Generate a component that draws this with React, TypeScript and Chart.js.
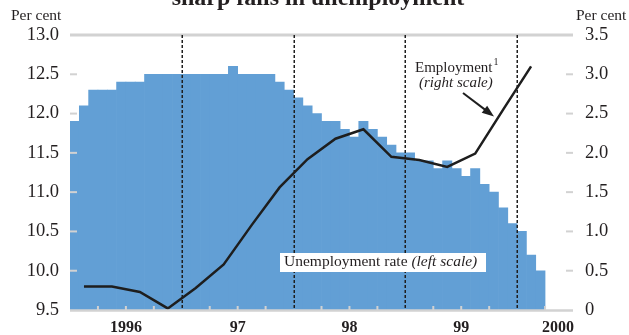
import React, { useEffect, useRef } from 'react';
import { Chart, registerables } from 'chart.js';

Chart.register(...registerables);

// ---- Data ----
const yearLabels = ['1996', '97', '98', '99', '2000'];
const startYear = 1996;
const monthCount = 54; // Jan 1996 .. Jun 2000

// Monthly unemployment rate, per cent (left scale)
const unemployment = [
  11.9, 12.1, 12.3, 12.3, 12.3, 12.4, 12.4, 12.4,
  12.5, 12.5, 12.5, 12.5, 12.5, 12.5, 12.5, 12.5, 12.5,
  12.6, 12.5, 12.5, 12.5, 12.5, 12.4, 12.3, 12.2, 12.1, 12.0,
  11.9, 11.9, 11.8, 11.7, 11.9, 11.8, 11.7, 11.6, 11.5, 11.5,
  11.4, 11.4, 11.3, 11.4, 11.3, 11.2, 11.3, 11.1, 11.0, 10.8,
  10.6, 10.5, 10.2, 10.0,
];

// Quarterly employment growth, per cent (right scale), 1996Q1 .. 2000Q1
const employment = [
  0.30, 0.30, 0.23, 0.02, 0.28, 0.58, 1.08, 1.56, 1.92,
  2.18, 2.30, 1.95, 1.91, 1.82, 1.99, 2.55, 3.10,
];

const leftTicks = [9.5, 10.0, 10.5, 11.0, 11.5, 12.0, 12.5, 13.0];
const rightTicks = [0, 0.5, 1.0, 1.5, 2.0, 2.5, 3.0, 3.5];

const titleText = 'sharp falls in unemployment';
const unitText = 'Per cent';

// ---- Derived tables ----
const monthLabels: string[] = [];
for (let i = 0; i < monthCount; i++) {
  monthLabels.push(`${startYear + Math.floor(i / 12)}-${String((i % 12) + 1).padStart(2, '0')}`);
}
const barData: (number | null)[] = monthLabels.map((_, i) => (i < unemployment.length ? unemployment[i] : null));
const lineData: (number | null)[] = monthLabels.map((_, i) =>
  i % 3 === 1 && Math.floor(i / 3) < employment.length ? employment[Math.floor(i / 3)] : null
);

const SERIF = "'Liberation Serif', 'Times New Roman', serif";
const TEXT = '#231f20';
const GRAY = '#d2d2d2';
const BLUE = '#629fd5';

const overlay = {
  id: 'overlay',
  afterDatasetsDraw(chart: any) {
    const ctx = chart.ctx as CanvasRenderingContext2D;
    const { left, right, top, bottom } = chart.chartArea;
    const x = chart.scales.x;
    const yL = chart.scales.y;
    const yR = chart.scales.y2;
    const half = (x.getPixelForValue(1) - x.getPixelForValue(0)) / 2;
    const edge = (m: number) => x.getPixelForValue(Math.min(m, monthCount - 1)) + (m < monthCount ? -half : half);

    ctx.save();
    // top and bottom gray rules
    ctx.strokeStyle = GRAY;
    ctx.lineWidth = 3;
    ctx.beginPath();
    ctx.moveTo(left, yL.getPixelForValue(leftTicks[leftTicks.length - 1]));
    ctx.lineTo(right, yL.getPixelForValue(leftTicks[leftTicks.length - 1]));
    ctx.stroke();
    ctx.lineWidth = 2.5;
    ctx.beginPath();
    ctx.moveTo(left, yL.getPixelForValue(leftTicks[0]) + 0.5);
    ctx.lineTo(right, yL.getPixelForValue(leftTicks[0]) + 0.5);
    ctx.stroke();

    // y tick marks inside the plot
    ctx.lineWidth = 2;
    leftTicks.slice(1, -1).forEach((v) => {
      const py = yL.getPixelForValue(v);
      ctx.beginPath();
      ctx.moveTo(left, py);
      ctx.lineTo(left + 7, py);
      ctx.stroke();
    });
    rightTicks.slice(1, -1).forEach((v) => {
      const py = yR.getPixelForValue(v);
      ctx.beginPath();
      ctx.moveTo(right - 7, py);
      ctx.lineTo(right, py);
      ctx.stroke();
    });
    // x quarter ticks
    for (let m = 3; m < monthCount; m += 3) {
      if (m % 12 === 0) continue;
      const px = edge(m);
      ctx.beginPath();
      ctx.moveTo(px, bottom - 4);
      ctx.lineTo(px, bottom);
      ctx.stroke();
    }

    // dotted year separators
    ctx.strokeStyle = '#1e1e1e';
    ctx.lineWidth = 1.5;
    ctx.setLineDash([3, 2]);
    for (let m = 12; m < monthCount; m += 12) {
      const px = Math.round(edge(m)) + 0.25;
      ctx.beginPath();
      ctx.moveTo(px, top);
      ctx.lineTo(px, bottom);
      ctx.stroke();
    }
    ctx.setLineDash([]);

    // Unemployment label with white box
    ctx.fillStyle = '#ffffff';
    ctx.fillRect(280, 253, 206, 19);
    ctx.fillStyle = TEXT;
    ctx.textBaseline = 'alphabetic';
    ctx.textAlign = 'left';
    ctx.font = `15.5px ${SERIF}`;
    const part1 = 'Unemployment rate ';
    ctx.fillText(part1, 284, 266);
    const w1 = ctx.measureText(part1).width;
    ctx.font = `italic 15.5px ${SERIF}`;
    ctx.fillText('(left scale)', 284 + w1, 266);

    // Employment label
    ctx.font = `15px ${SERIF}`;
    ctx.fillText('Employment', 415, 72);
    const w2 = ctx.measureText('Employment').width;
    ctx.font = `10px ${SERIF}`;
    ctx.fillText('1', 415 + w2 + 1, 65);
    ctx.font = `italic 15px ${SERIF}`;
    ctx.fillText('(right scale)', 419, 87);

    // arrow
    const x0 = 463, y0 = 93, x1 = 494, y1 = 116.5;
    const ang = Math.atan2(y1 - y0, x1 - x0);
    ctx.strokeStyle = '#1e1e1e';
    ctx.fillStyle = '#1e1e1e';
    ctx.lineWidth = 2;
    ctx.beginPath();
    ctx.moveTo(x0, y0);
    ctx.lineTo(x1 - 8 * Math.cos(ang), y1 - 8 * Math.sin(ang));
    ctx.stroke();
    ctx.beginPath();
    ctx.moveTo(x1, y1);
    ctx.lineTo(x1 - 12 * Math.cos(ang) + 4.5 * Math.sin(ang), y1 - 12 * Math.sin(ang) - 4.5 * Math.cos(ang));
    ctx.lineTo(x1 - 12 * Math.cos(ang) - 4.5 * Math.sin(ang), y1 - 12 * Math.sin(ang) + 4.5 * Math.cos(ang));
    ctx.closePath();
    ctx.fill();

    // x-axis year labels
    ctx.fillStyle = TEXT;
    ctx.font = `bold 16px ${SERIF}`;
    ctx.textAlign = 'center';
    yearLabels.forEach((lab, k) => {
      const a = edge(k * 12);
      const b = edge(Math.min((k + 1) * 12, monthCount));
      if ((k + 1) * 12 <= monthCount) {
        ctx.textAlign = 'center';
        ctx.fillText(lab, (a + b) / 2, 332);
      } else {
        ctx.textAlign = 'right';
        ctx.fillText(lab, b + 1, 332);
      }
    });

    // unit labels
    ctx.font = `15.5px ${SERIF}`;
    ctx.textAlign = 'left';
    ctx.fillText(unitText, 11, 20);
    ctx.fillText(unitText, 576, 20);

    // title (cut at top)
    ctx.font = `bold 24px ${SERIF}`;
    ctx.textAlign = 'center';
    ctx.fillText(titleText, 318, 5);
    ctx.restore();
  },
};

export default function App() {
  const ref = useRef<HTMLCanvasElement | null>(null);
  useEffect(() => {
    if (!ref.current) return;
    const chart = new Chart(ref.current, {
      type: 'bar',
      data: {
        labels: monthLabels,
        datasets: [
          {
            type: 'line',
            label: 'Employment',
            data: lineData,
            yAxisID: 'y2',
            borderColor: '#1e1e1e',
            borderWidth: 2.5,
            pointRadius: 0,
            spanGaps: true,
            tension: 0,
            order: 0,
          } as any,
          {
            type: 'bar',
            label: 'Unemployment rate',
            data: barData,
            yAxisID: 'y',
            backgroundColor: BLUE,
            borderWidth: 0,
            barPercentage: 1,
            categoryPercentage: 1,
            order: 1,
          },
        ],
      },
      options: {
        responsive: false,
        animation: false,
        events: [],
        layout: { padding: { top: 35, left: 0, right: 0, bottom: 0 } },
        plugins: { legend: { display: false }, tooltip: { enabled: false }, title: { display: false } },
        scales: {
          x: {
            type: 'category',
            offset: true,
            grid: { display: false, drawTicks: false },
            border: { display: false },
            ticks: { display: false },
            afterFit: (s: any) => { s.height = 25; },
          },
          y: {
            type: 'linear',
            position: 'left',
            min: leftTicks[0],
            max: leftTicks[leftTicks.length - 1],
            grid: { display: false, drawTicks: false },
            border: { display: false },
            ticks: {
              stepSize: 0.5,
              padding: 11,
              color: TEXT,
              font: { family: SERIF, size: 18.5 },
              callback: (v: any) => Number(v).toFixed(1),
            },
            afterFit: (s: any) => { s.width = 70; },
          },
          y2: {
            type: 'linear',
            position: 'right',
            min: rightTicks[0],
            max: rightTicks[rightTicks.length - 1],
            grid: { display: false, drawTicks: false },
            border: { display: false },
            ticks: {
              stepSize: 0.5,
              padding: 12,
              color: TEXT,
              font: { family: SERIF, size: 18.5 },
              callback: (v: any) => (Number(v) === 0 ? '0' : Number(v).toFixed(1)),
            },
            afterFit: (s: any) => { s.width = 56; },
          },
        },
      },
      plugins: [overlay],
    });
    return () => chart.destroy();
  }, []);
  return (
    <div style={{ position: 'absolute', left: 0, top: 0, width: 629, height: 335, background: '#fff' }}>
      <canvas ref={ref} width={629} height={335} style={{ display: 'block' }} />
    </div>
  );
}
